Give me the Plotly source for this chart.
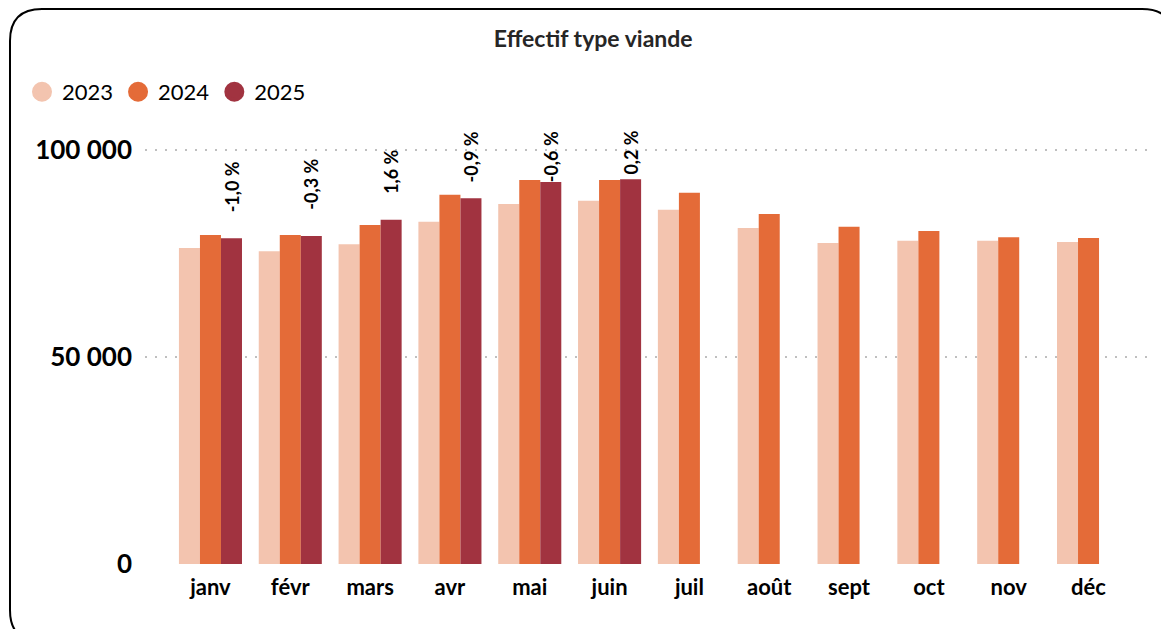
import plotly.graph_objects as go

months = ["janv", "févr", "mars", "avr", "mai", "juin", "juil", "août", "sept", "oct", "nov", "déc"]
v2023 = [76300, 75500, 77200, 82600, 86900, 87700, 85500, 81100, 77500, 78000, 78000, 77700]
v2024 = [79400, 79400, 81800, 89100, 92700, 92700, 89600, 84500, 81400, 80400, 78900, 78700]
v2025 = [78600, 79200, 83100, 88300, 92200, 92900]
pct_labels = ["-1,0 %", "-0,3 %", "1,6 %", "-0,9 %", "-0,6 %", "0,2 %"]

colors = {"2023": "#F3C4AF", "2024": "#E46B38", "2025": "#A13340"}
FONT = "Lato"

W, H = 1161, 629
L, R, T, B = 145, 11, 129, 65
XRANGE = [-0.82, 11.77]
YMAX = 105000
BARGAP = 0.21

fig = go.Figure()
for name, vals in [("2023", v2023), ("2024", v2024), ("2025", v2025)]:
    fig.add_trace(go.Bar(
        x=months[:len(vals)], y=vals, name=name,
        marker_color=colors[name], marker_line_width=0,
        showlegend=False,
    ))

# circle markers for the legend
for name in ["2023", "2024", "2025"]:
    fig.add_trace(go.Scatter(
        x=[None], y=[None], mode="markers", name=name,
        marker=dict(color=colors[name], size=16, symbol="circle",
                    line=dict(color=colors[name], width=4)),
    ))

# % change labels above 2025 bars, pushed down when they would leave the plot
px_per_unit = (H - T - B) / YMAX
cat_px = (W - L - R) / (XRANGE[1] - XRANGE[0])
bar_shift = cat_px * (1 - BARGAP) / 3
gap_px, label_px = 24, 56
for m, v, lab in zip(months, v2025, pct_labels):
    top_px = v * px_per_unit + gap_px + label_px
    clamp = top_px > (H - T - B)
    fig.add_annotation(
        x=m, y=YMAX if clamp else v, yanchor="top" if clamp else "bottom",
        yshift=0 if clamp else gap_px, xshift=bar_shift,
        text=f"<b>{lab}</b>", textangle=-90, showarrow=False,
        font=dict(family=FONT, size=18, color="black"),
    )


def px_to_paper(px, py):
    return (px - L) / (W - L - R), (H - B - py) / (H - T - B)


# rounded frame around the chart
r = 32
x0, y0, x1, y1 = 10, 9, 1174, 642
pts = [
    ("M", x0 + r, y1), ("Q", x0, y1, x0, y1 - r),
    ("L", x0, y0 + r), ("Q", x0, y0, x0 + r, y0),
    ("L", x1 - r, y0), ("Q", x1, y0, x1, y0 + r),
]
path = ""
for p in pts:
    cmd, coords = p[0], p[1:]
    parts = []
    for i in range(0, len(coords), 2):
        a, b = px_to_paper(coords[i], coords[i + 1])
        parts.append(f"{a:.5f},{b:.5f}")
    path += cmd + " ".join(parts) + " "
fig.add_shape(type="path", path=path, xref="paper", yref="paper",
              line=dict(color="black", width=2))

fig.update_layout(
    width=W, height=H,
    margin=dict(l=L, r=R, t=T, b=B),
    paper_bgcolor="white", plot_bgcolor="white",
    separators=", ",
    barmode="group", bargap=BARGAP, bargroupgap=0,
    font=dict(family=FONT, color="black"),
    title=dict(text="<b>Effectif type viande</b>", x=0.511, xanchor="center",
               y=1 - 39 / H, yanchor="middle",
               font=dict(size=23, family=FONT, color="#262626")),
    legend=dict(orientation="h", x=(22 - L) / (W - L - R), xanchor="left",
                y=1 + (T - 92) / (H - T - B), yanchor="middle",
                font=dict(size=22, family=FONT), itemwidth=30,
                bgcolor="rgba(0,0,0,0)"),
    xaxis=dict(range=XRANGE, showgrid=False, showline=False, ticks="",
               ticklabelstandoff=8,
               tickfont=dict(size=22, family=FONT, weight="bold")),
    yaxis=dict(range=[0, YMAX], tickvals=[0, 50000, 100000], tickformat=",d",
               showgrid=True, gridcolor="#bfbfbf", griddash="2px,8px", gridwidth=1.5,
               zeroline=False, showline=False, ticks="", ticklabelstandoff=12,
               tickfont=dict(size=26, family=FONT, weight="bold")),
)

fig.write_html("out.html", config={"displayModeBar": False},
               post_script="document.body.style.margin='0';")
